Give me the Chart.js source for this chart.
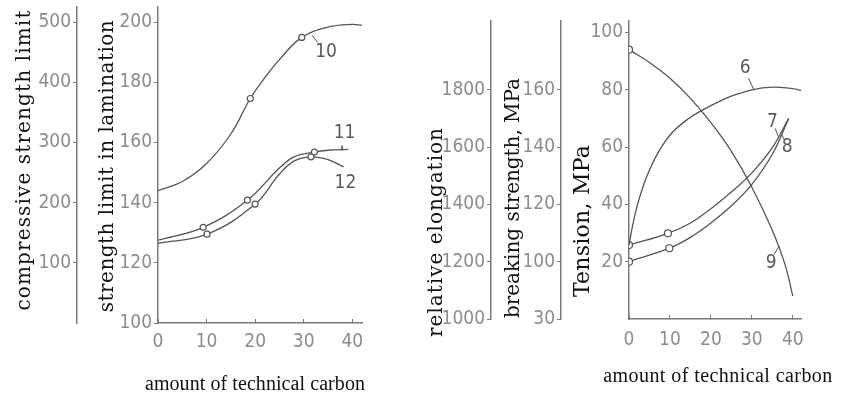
<!DOCTYPE html>
<html>
<head>
<meta charset="utf-8">
<script src="https://cdn.jsdelivr.net/npm/chart.js@4/dist/chart.umd.min.js"></script>
<style>
  body { margin: 0; background: #fff; }
  #wrap { position: relative; width: 853px; height: 400px; }
  canvas { position: absolute; top: 0; }
  #left { left: 0; }
  #right { left: 400px; }
</style>
</head>
<body>
<div id="wrap">
  <canvas id="left" width="400" height="400"></canvas>
  <canvas id="right" width="453" height="400"></canvas>
</div>
<script>
// ---- left panel: strength vs amount of technical carbon ----
const xTicks = [0, 10, 20, 30, 40];
const outerTicks = [100, 200, 300, 400, 500];
const innerTicks = [100, 120, 140, 160, 180, 200];

const c10X = [0, 5, 10, 15, 19, 22, 25, 29.6, 35, 40, 42];
const c10Y = [144, 147, 153, 162.8, 174.6, 181.5, 187.5, 194.9, 198.3, 199.2, 198.9];
const c10Marks = [19, 29.6];

const c11X = [0, 9.3, 18.4, 25, 28, 32.2, 35, 39.2];
const c11Y = [127.5, 131.8, 140.8, 151.5, 155.2, 156.8, 157.4, 157.7];
const c11Marks = [9.3, 18.4, 32.2];

const c12X = [0, 10.1, 20, 25, 28, 31.5, 35, 38.2];
const c12Y = [126.5, 129.5, 139.5, 149.5, 153.8, 155.2, 154.3, 151.9];
const c12Marks = [10.1, 20, 31.5];

const leftLabels = [
  { text: '10', x: 34.6, y: 190.1 },
  { text: '11', x: 38.4, y: 163 },
  { text: '12', x: 38.6, y: 146.4 }
];
const lead10 = [[31.7, 195.6], [32.9, 193.2]];
const lead11 = [[37.9, 158.9], [37.9, 157.4]];

// ---- right panel: tension vs amount of technical carbon ----
const elongTicks = [1000, 1200, 1400, 1600, 1800];
const breakTicks = [80, 100, 120, 140, 160];
const breakLabels = ['30', '100', '120', '140', '160'];
const tensionTicks = [20, 40, 60, 80, 100];

const c6X = [0, 1, 2, 3.5, 5, 7.5, 10.5, 14.6, 17.8, 22.7, 25, 30, 35, 40, 42];
const c6Y = [25.8, 33.5, 39.5, 46.5, 52, 59, 65, 70, 72.8, 76.4, 77.8, 80, 80.9, 80.4, 79.8];

const c7X = [0, 9.5, 15, 20, 25, 30, 35, 39];
const c7Y = [25.8, 29.9, 33.5, 38.5, 44.3, 51, 59.8, 70];
const c7Marks = [0, 9.5];

const c8X = [0, 9.85, 15, 20, 25, 30, 35, 39];
const c8Y = [20, 24.7, 28.5, 33.5, 39.5, 47, 57.5, 70];
const c8Marks = [0, 9.85];

const c9X = [0, 5, 10, 15, 20, 25, 30, 35, 38, 40];
const c9Y = [94, 89.5, 84, 77, 68.5, 58.5, 46, 31, 19.5, 8];
const c9Marks = [0];

const rightLabels = [
  { text: '6', x: 28.4, y: 87.6 },
  { text: '7', x: 35.0, y: 68.9 },
  { text: '8', x: 38.6, y: 60.1 },
  { text: '9', x: 34.7, y: 19.4 }
];
const lead6 = [[29.2, 84.0], [30.4, 80.3]];
const lead7 = [[35.7, 66.5], [36.5, 63.5]];
const lead8 = [[38.0, 62.5], [37.3, 64.3]];
const lead9 = [[35.4, 22.5], [36.7, 25.5]];

// ---- styles ----
const INK = '#555';
const AXIS = '#7a7a7a';
const tickFont = { family: "'Liberation Sans Narrow', 'DejaVu Sans Condensed', sans-serif", size: 19 };
const tickColor = '#8c8c8c';
const serifV = "20px 'DejaVu Serif', serif";
const serifH = "20px 'Liberation Serif', serif";

function curve(xs, ys, marks, r) {
  return {
    data: xs.map((x, i) => ({ x: x, y: ys[i] })),
    showLine: true,
    borderColor: INK,
    borderWidth: 1.3,
    tension: 0.4,
    pointRadius: xs.map(x => marks.includes(x) ? r : 0),
    pointBackgroundColor: '#fff',
    pointBorderColor: INK,
    pointBorderWidth: 1.2,
    yAxisID: 'y'
  };
}

function leader(pts) {
  return {
    data: pts.map(p => ({ x: p[0], y: p[1] })),
    showLine: true, borderColor: INK, borderWidth: 1, pointRadius: 0, yAxisID: 'y'
  };
}

function fixedTicks(values) {
  return scale => { scale.ticks = values.map(v => ({ value: v })); };
}

function yAxis(min, max, ticks, weight, width, labels) {
  return {
    type: 'linear', position: 'left', weight: weight, min: min, max: max,
    afterBuildTicks: fixedTicks(ticks),
    afterFit: s => { s.width = width; s.paddingTop = 0; s.paddingBottom = 0; },
    grid: { drawOnChartArea: false, color: AXIS, tickLength: 4 },
    border: { color: AXIS, width: 1.5 },
    ticks: {
      font: tickFont, color: tickColor, padding: 2,
      callback: labels ? (v => labels[ticks.indexOf(v)]) : (v => v)
    }
  };
}

function xAxis(height, pad) {
  return {
    type: 'linear', position: 'bottom', min: 0, max: 42,
    afterBuildTicks: fixedTicks(xTicks),
    afterFit: s => { s.height = height; s.paddingLeft = 0; s.paddingRight = 0; },
    grid: { drawOnChartArea: false, color: AXIS, tickLength: -4 },
    border: { color: AXIS, width: 1.5 },
    ticks: { font: tickFont, color: tickColor, padding: pad, maxRotation: 0, autoSkip: false }
  };
}

// axis titles, stretched to the length they have in the scan
const axisTitles = {
  id: 'axisTitles',
  afterDraw(chart, args, opts) {
    const ctx = chart.ctx;
    for (const t of opts.items) {
      ctx.save();
      ctx.font = t.font;
      ctx.fillStyle = '#111';
      ctx.letterSpacing = '0px';
      const w = ctx.measureText(t.text).width;
      ctx.letterSpacing = ((t.length - w) / (t.text.length - 1)) + 'px';
      ctx.translate(t.x, t.y);
      if (t.vertical) ctx.rotate(-Math.PI / 2);
      ctx.textAlign = 'center';
      ctx.textBaseline = 'middle';
      ctx.fillText(t.text, 0, 0);
      ctx.restore();
    }
  }
};

const curveLabels = {
  id: 'curveLabels',
  afterDatasetsDraw(chart, args, opts) {
    const { ctx, scales } = chart;
    ctx.save();
    ctx.font = "19px 'Liberation Sans Narrow', 'DejaVu Sans Condensed', sans-serif";
    ctx.fillStyle = '#5a5a5a';
    ctx.textAlign = 'center';
    ctx.textBaseline = 'middle';
    for (const l of opts.items) {
      ctx.fillText(l.text, scales.x.getPixelForValue(l.x), scales.y.getPixelForValue(l.y));
    }
    ctx.restore();
  }
};

const common = {
  responsive: false,
  animation: false,
  events: [],
  devicePixelRatio: 1
};

new Chart(document.getElementById('left'), {
  type: 'scatter',
  data: {
    datasets: [
      curve(c10X, c10Y, c10Marks, 3),
      curve(c11X, c11Y, c11Marks, 3),
      curve(c12X, c12Y, c12Marks, 3),
      leader(lead10),
      leader(lead11)
    ]
  },
  options: Object.assign({}, common, {
    layout: { padding: { top: 7, right: 38, bottom: 0, left: 0 } },
    scales: {
      x: xAxis(77, 12),
      yOuter: yAxis(0, 525, outerTicks, 2, 77),
      y: yAxis(100, 205, innerTicks, 1, 81)
    },
    plugins: {
      legend: { display: false },
      tooltip: { enabled: false },
      curveLabels: { items: leftLabels },
      axisTitles: {
        items: [
          { text: 'compressive strength limit', x: 25, y: 160, length: 300, font: serifV, vertical: true },
          { text: 'strength limit in lamination', x: 108, y: 166, length: 292, font: serifV, vertical: true },
          { text: 'amount of technical carbon', x: 255, y: 385, length: 220, font: serifH }
        ]
      }
    }
  }),
  plugins: [axisTitles, curveLabels]
});

new Chart(document.getElementById('right'), {
  type: 'scatter',
  data: {
    datasets: [
      curve(c6X, c6Y, [], 3.5),
      curve(c7X, c7Y, c7Marks, 3.5),
      curve(c8X, c8Y, c8Marks, 3.5),
      curve(c9X, c9Y, c9Marks, 3.5),
      leader(lead6),
      leader(lead7),
      leader(lead8),
      leader(lead9)
    ]
  },
  options: Object.assign({}, common, {
    layout: { padding: { top: 21, right: 52, bottom: 0, left: 0 } },
    scales: {
      x: xAxis(81, 13.5),
      yElong: yAxis(1000, 2040, elongTicks, 3, 91),
      yBreak: yAxis(80, 184, breakTicks, 2, 70, breakLabels),
      y: yAxis(0, 104, tensionTicks, 1, 68)
    },
    plugins: {
      legend: { display: false },
      tooltip: { enabled: false },
      curveLabels: { items: rightLabels },
      axisTitles: {
        items: [
          { text: 'relative elongation', x: 37, y: 232, length: 209, font: serifV, vertical: true },
          { text: 'breaking strength, MPa', x: 114, y: 198, length: 240, font: serifV, vertical: true },
          { text: 'Tension, MPa', x: 183, y: 221, length: 152, font: "22px 'DejaVu Serif', serif", vertical: true },
          { text: 'amount of technical carbon', x: 318, y: 377, length: 229, font: serifH }
        ]
      }
    }
  }),
  plugins: [axisTitles, curveLabels]
});
</script>
</body>
</html>
